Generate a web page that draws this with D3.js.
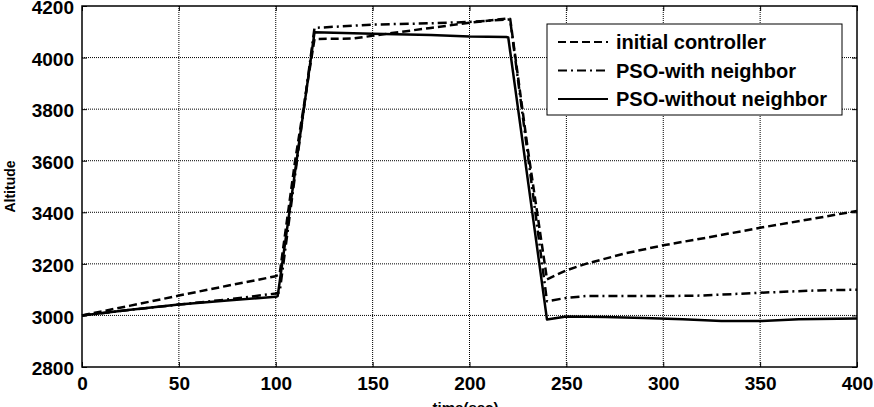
<!DOCTYPE html>
<html lang="en">
<head>
    <meta charset="UTF-8">
    <title>Altitude response</title>
    <script src="https://cdnjs.cloudflare.com/ajax/libs/d3/7.8.5/d3.min.js"></script>
    <style>
        body { margin: 0; background: white; font-family: "Liberation Sans", Arial, sans-serif; }
        svg { display: block; }
        .tick text { font-weight: bold; font-size: 19px; fill: black; }
    </style>
</head>
<body>
    <div id="chart"></div>

    <script>
        // initial controller (dashed)
        const timeInit = [0, 25, 50, 75, 100, 102, 110, 120, 140, 160, 180, 200, 220, 221, 230, 240, 250, 260, 280, 300, 325, 350, 375, 400];
        const altInit  = [3000, 3038, 3077, 3115, 3152, 3160, 3600, 4072, 4074, 4095, 4115, 4135, 4152, 4150, 3650, 3140, 3175, 3200, 3240, 3272, 3305, 3340, 3372, 3405];

        // PSO-with neighbor (dash-dot)
        const timeWith = [0, 25, 50, 75, 100, 102, 120, 150, 180, 200, 220, 221, 240, 250, 260, 300, 320, 350, 380, 400];
        const altWith  = [3000, 3022, 3042, 3062, 3085, 3090, 4115, 4128, 4133, 4138, 4148, 4145, 3055, 3068, 3075, 3075, 3077, 3088, 3097, 3100];

        // PSO-without neighbor (solid)
        const timeWithout = [0, 25, 50, 75, 100, 101, 120, 150, 180, 200, 219, 220, 240, 250, 270, 290, 310, 330, 350, 370, 400];
        const altWithout  = [3000, 3022, 3042, 3058, 3072, 3075, 4098, 4092, 4088, 4082, 4080, 4078, 2984, 2996, 2994, 2990, 2985, 2978, 2978, 2985, 2988];

        const xTicks = [0, 50, 100, 150, 200, 250, 300, 350, 400];
        const yTicks = [2800, 3000, 3200, 3400, 3600, 3800, 4000, 4200];
        const seriesNames = ["initial controller", "PSO-with neighbor", "PSO-without neighbor"];

        const width = 874, height = 407;
        const margin = { top: 6, right: 17, bottom: 40, left: 82 };
        const w = width - margin.left - margin.right;
        const h = height - margin.top - margin.bottom;

        const svg = d3.select("#chart").append("svg")
            .attr("width", width)
            .attr("height", height);

        const g = svg.append("g")
            .attr("transform", `translate(${margin.left},${margin.top})`);

        const x = d3.scaleLinear().domain([0, 400]).range([0, w]);
        const y = d3.scaleLinear().domain([2800, 4200]).range([h, 0]);

        // dotted grid
        g.append("g").selectAll("line")
            .data(xTicks.slice(1, -1))
            .join("line")
            .attr("x1", d => x(d)).attr("x2", d => x(d))
            .attr("y1", 0).attr("y2", h)
            .attr("stroke", "black").attr("stroke-width", 1)
            .attr("stroke-dasharray", "1,1");

        g.append("g").selectAll("line")
            .data(yTicks.slice(1, -1))
            .join("line")
            .attr("x1", 0).attr("x2", w)
            .attr("y1", d => y(d)).attr("y2", d => y(d))
            .attr("stroke", "black").attr("stroke-width", 1)
            .attr("stroke-dasharray", "1,1");

        // axes with inward ticks
        g.append("g")
            .attr("transform", `translate(0,${h})`)
            .call(d3.axisBottom(x).tickValues(xTicks).tickFormat(d3.format("d"))
                .tickSizeInner(-5).tickSizeOuter(0).tickPadding(10));
        g.append("g")
            .call(d3.axisLeft(y).tickValues(yTicks).tickFormat(d3.format("d"))
                .tickSizeInner(-5).tickSizeOuter(0).tickPadding(8))
            .selectAll(".tick text").attr("dy", "0.4em");
        g.append("g")
            .call(d3.axisTop(x).tickValues(xTicks).tickSizeInner(-5).tickSizeOuter(0).tickFormat(""));
        g.append("g")
            .attr("transform", `translate(${w},0)`)
            .call(d3.axisRight(y).tickValues(yTicks).tickSizeInner(-5).tickSizeOuter(0).tickFormat(""));
        g.selectAll(".domain").remove();
        g.selectAll(".tick line").attr("stroke", "black");

        g.append("rect")
            .attr("width", w).attr("height", h)
            .attr("fill", "none").attr("stroke", "black").attr("stroke-width", 1.5);

        // lines
        const line = d3.line().x(d => x(d[0])).y(d => y(d[1]));
        const series = [
            { t: timeInit, v: altInit, dash: "8,4" },
            { t: timeWith, v: altWith, dash: "9,4,2,4" },
            { t: timeWithout, v: altWithout, dash: null }
        ];

        series.forEach(s => {
            g.append("path")
                .datum(d3.zip(s.t, s.v))
                .attr("d", line)
                .attr("fill", "none")
                .attr("stroke", "black")
                .attr("stroke-width", 2.5)
                .attr("stroke-linejoin", "round")
                .attr("stroke-dasharray", s.dash);
        });

        // axis labels
        svg.append("text")
            .attr("transform", `translate(15,${margin.top + h / 2}) rotate(-90)`)
            .attr("text-anchor", "middle")
            .style("font-weight", "bold").style("font-size", "14px")
            .text("Altitude");

        svg.append("text")
            .attr("x", margin.left + w / 2 - 4).attr("y", 413)
            .attr("text-anchor", "middle")
            .style("font-weight", "bold").style("font-size", "15px")
            .text("time(sec)");

        // legend
        const legend = svg.append("g").attr("transform", "translate(547,24)");
        legend.append("rect")
            .attr("width", 295).attr("height", 91)
            .attr("fill", "white").attr("stroke", "black").attr("stroke-width", 1);

        seriesNames.forEach((name, i) => {
            const ly = 18 + i * 28.5;
            legend.append("line")
                .attr("x1", 11).attr("x2", 61)
                .attr("y1", ly).attr("y2", ly)
                .attr("stroke", "black").attr("stroke-width", 2)
                .attr("stroke-dasharray", series[i].dash);
            legend.append("text")
                .attr("x", 69).attr("y", ly + 7)
                .style("font-weight", "bold").style("font-size", "20px")
                .text(name);
        });
    </script>
</body>
</html>
